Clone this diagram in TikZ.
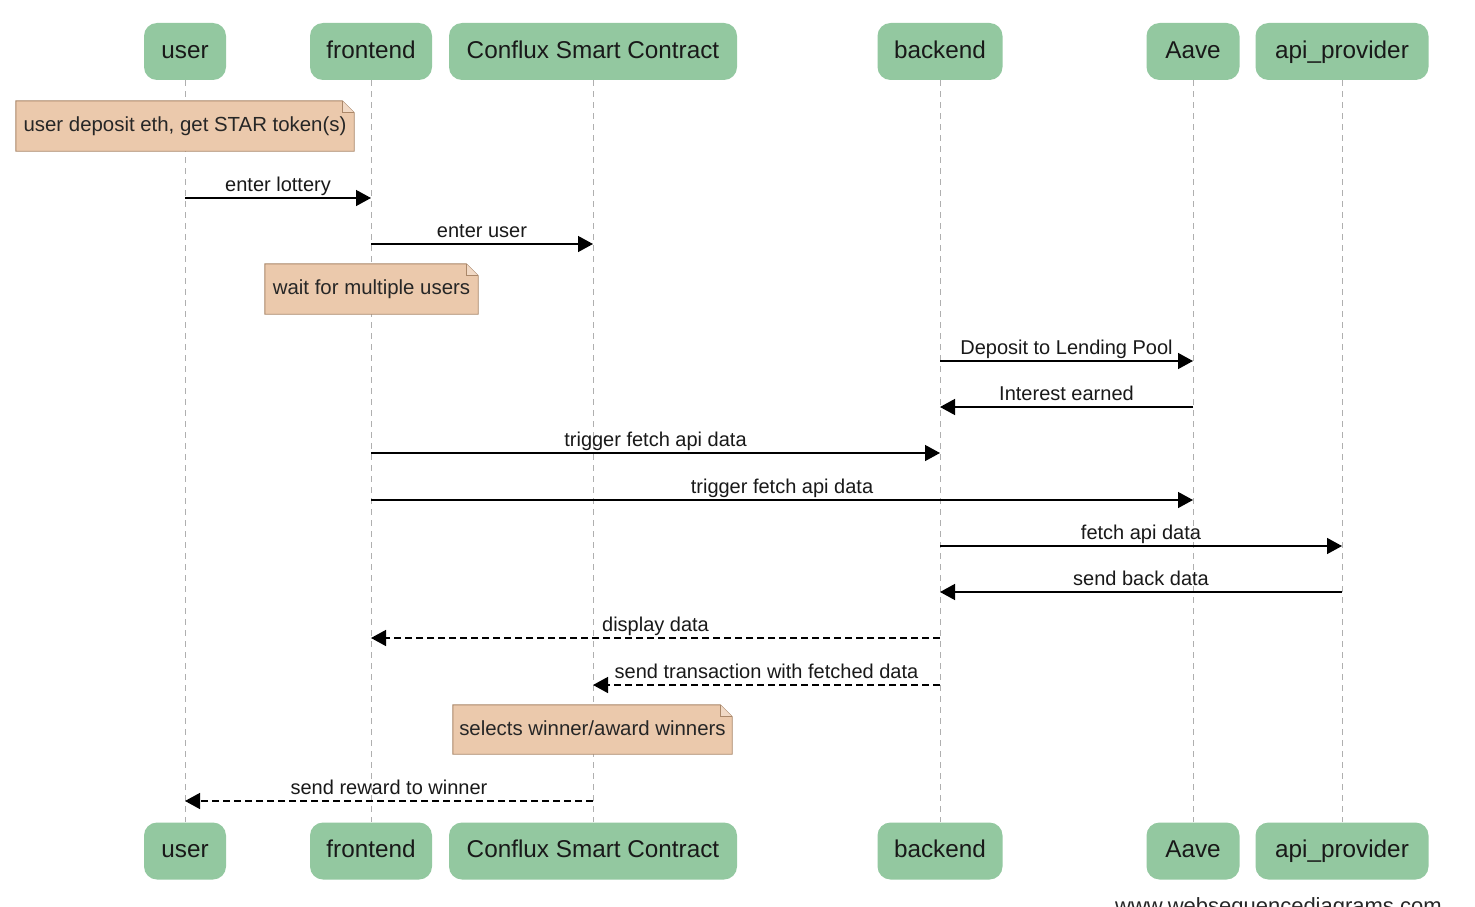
\documentclass[tikz,border=0pt]{standalone}
\usepackage{fontspec}
\setmainfont{Liberation Sans}
\usetikzlibrary{arrows.meta,calc}
\definecolor{actfill}{RGB}{147,200,160}
\definecolor{notefill}{RGB}{235,201,172}
\definecolor{notedraw}{RGB}{170,135,105}
\definecolor{lifegray}{RGB}{175,175,175}
\newcommand{\hdrfont}{\fontsize{24.3}{28}\selectfont}
\newcommand{\lblfont}{\fontsize{20}{24}\selectfont}
\newcommand{\notefont}{\fontsize{20.4}{24}\selectfont}
\tikzset{
  actor/.style={fill=actfill, draw=none, rounded corners=13pt, minimum height=57pt,
    inner sep=0pt, font=\hdrfont, text=black!90, text height=18pt, text depth=4.5pt},
  lifeline/.style={draw=lifegray, line width=0.9pt, dash pattern=on 6pt off 5pt},
  msg/.style={draw=black, line width=1.4pt, -{Triangle[length=15pt,width=16pt]}},
  reply/.style={msg, dash pattern=on 7pt off 4pt},
  lbl/.style={font=\lblfont, anchor=base, inner sep=0pt, text=black!90},
  notebox/.style={draw=none, fill=none, inner sep=0pt, font=\notefont, text=black!85,
    text height=15pt, text depth=4pt},
}
\newcommand{\mynote}[1]{%
  \filldraw[fill=notefill, draw=notedraw, line width=0.9pt]
    (#1.north west) -- ([xshift=-12pt]#1.north east) -- ([yshift=-12pt]#1.north east)
    -- (#1.south east) -- (#1.south west) -- cycle;
  \draw[draw=notedraw, line width=0.9pt, fill=notefill!70!white]
    ([xshift=-12pt]#1.north east) -- ([xshift=-12pt,yshift=-12pt]#1.north east) -- ([yshift=-12pt]#1.north east);
}
\begin{document}
\begin{tikzpicture}[x=1pt,y=-1pt]
\useasboundingbox[fill=white] (0,0) rectangle (1475,907);

% actors top
\node[actor, minimum width=82pt]  (uT) at (185,51.5) {user};
\node[actor, minimum width=122pt] (fT) at (371,51.5) {frontend};
\node[actor, minimum width=288pt] (cT) at (593,51.5) {Conflux Smart Contract};
\node[actor, minimum width=125pt] (bT) at (940,51.5) {backend};
\node[actor, minimum width=93pt]  (aT) at (1193,51.5) {Aave};
\node[actor, minimum width=173pt] (pT) at (1342,51.5) {api\_provider};
% actors bottom
\node[actor, minimum width=82pt]  (uB) at (185,851) {user};
\node[actor, minimum width=122pt] (fB) at (371,851) {frontend};
\node[actor, minimum width=288pt] (cB) at (593,851) {Conflux Smart Contract};
\node[actor, minimum width=125pt] (bB) at (940,851) {backend};
\node[actor, minimum width=93pt]  (aB) at (1193,851) {Aave};
\node[actor, minimum width=173pt] (pB) at (1342,851) {api\_provider};

% lifelines
\foreach \a in {u,f,c,b,a,p}{
  \draw[lifeline] (\a T.south) -- (\a B.north);
}

% notes
\node[notebox, minimum width=338pt, minimum height=50pt] (n1) at (185,126) {};
\mynote{n1}
\node[notebox] (n1t) at (n1.center) {user deposit eth, get STAR token(s)};

\node[notebox, minimum width=213pt, minimum height=50pt] (n2) at (371.5,289) {};
\mynote{n2}
\node[notebox] (n2t) at (n2.center) {wait for multiple users};

\node[notebox, minimum width=279pt, minimum height=49pt] (n3) at (592.5,729.5) {};
\mynote{n3}
\node[notebox] (n3t) at (n3.center) {selects winner/award winners};

% messages
\draw[msg] (uT.center |- 0,198) -- (fT.center |- 0,198)
  node[lbl, midway, yshift=7pt] {enter lottery};
\draw[msg] (fT.center |- 0,244) -- (cT.center |- 0,244)
  node[lbl, midway, yshift=7pt] {enter user};
\draw[msg] (bT.center |- 0,361) -- (aT.center |- 0,361)
  node[lbl, midway, yshift=7pt] {Deposit to Lending Pool};
\draw[msg] (aT.center |- 0,407) -- (bT.center |- 0,407)
  node[lbl, midway, yshift=7pt] {Interest earned};
\draw[msg] (fT.center |- 0,453) -- (bT.center |- 0,453)
  node[lbl, midway, yshift=7pt] {trigger fetch api data};
\draw[msg] (fT.center |- 0,500) -- (aT.center |- 0,500)
  node[lbl, midway, yshift=7pt] {trigger fetch api data};
\draw[msg] (bT.center |- 0,546) -- (pT.center |- 0,546)
  node[lbl, midway, yshift=7pt] {fetch api data};
\draw[msg] (pT.center |- 0,592) -- (bT.center |- 0,592)
  node[lbl, midway, yshift=7pt] {send back data};
\draw[reply] (bT.center |- 0,638) -- (fT.center |- 0,638)
  node[lbl, midway, yshift=7pt] {display data};
\draw[reply] (bT.center |- 0,685) -- (cT.center |- 0,685)
  node[lbl, midway, yshift=7pt] {send transaction with fetched data};
\draw[reply] (cT.center |- 0,801) -- (uT.center |- 0,801)
  node[lbl, midway, yshift=7pt] {send reward to winner};

% watermark (cut off at bottom edge, as in the reference)
\node[font=\fontsize{22}{26}\selectfont, anchor=base west, inner sep=0pt, text=black!85] (wm) at (1115,913) {www.websequencediagrams.com};
\end{tikzpicture}
\end{document}
